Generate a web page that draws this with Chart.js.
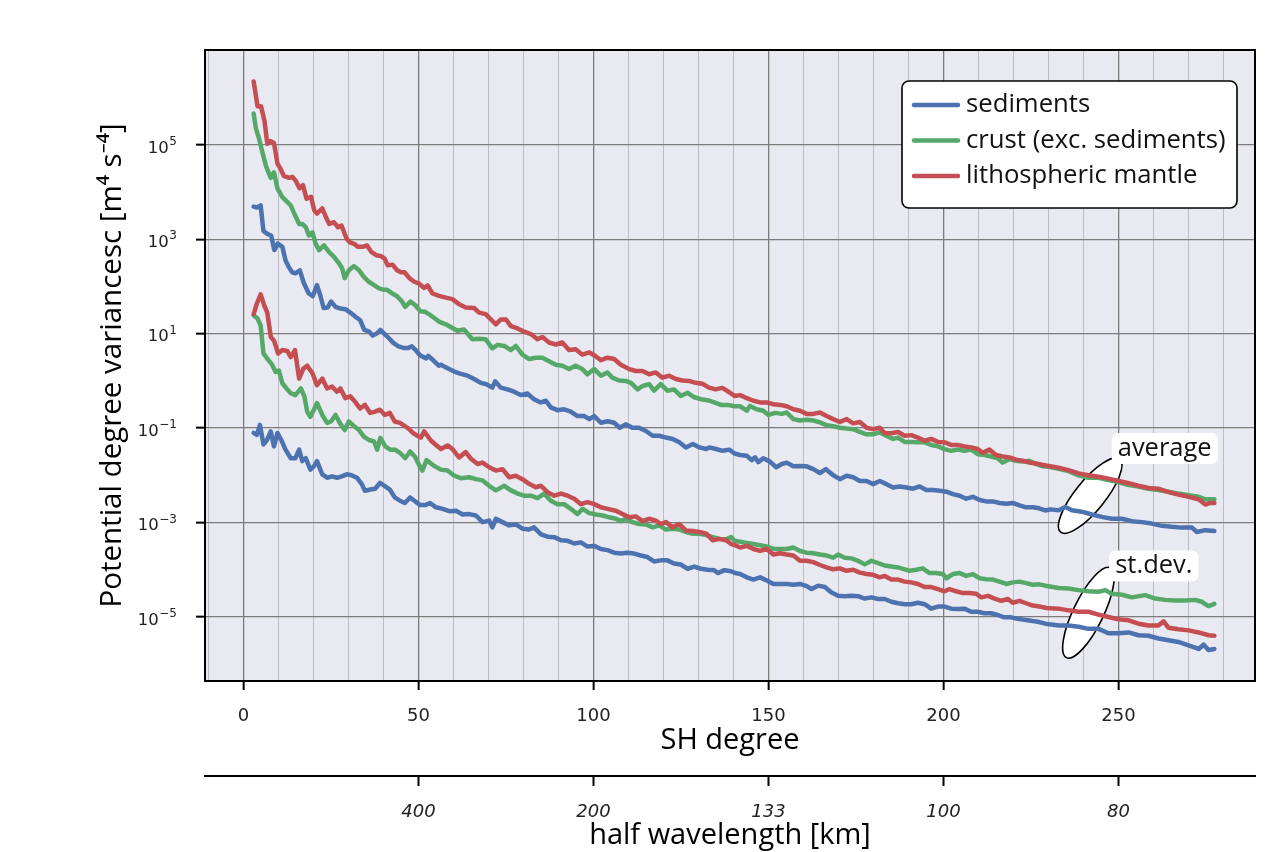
<!DOCTYPE html>
<html>
<head>
<meta charset="utf-8">
<title>Potential degree variances</title>
<script src="https://cdn.jsdelivr.net/npm/chart.js@4.4.1/dist/chart.umd.min.js"></script>
<style>
  html, body { margin: 0; padding: 0; background: #fff; }
  #chart { display: block; }
</style>
</head>
<body>
<canvas id="chart" width="1288" height="852"></canvas>
<script>
'use strict';

// series names, shared by the average and the st.dev. curves
const seriesNames = ['sediments', 'crust (exc. sediments)', 'lithospheric mantle'];

// [SH degree, potential degree variance]
const sedimentsAvg = [
  [2.9, 4.9e3], [3.8, 4.7e3], [4.9, 5.2e3], [5.7, 1.5e3], [6.8, 1.3e3], [7.9, 1.2e3], [8.8, 590], [9.8, 810],
  [11.1, 690], [12, 360], [12.9, 260], [13.9, 200], [14.8, 190], [16.1, 220], [17.2, 120], [18.6, 72],
  [19.8, 62], [21, 107], [21.9, 66], [22.9, 35], [24.1, 36], [25, 48], [26.3, 37], [27.7, 34], [29.1, 33],
  [30.5, 28], [31.9, 23], [33.3, 19.5], [34.5, 12], [35.8, 11.2], [36.9, 9.1], [38.2, 10.2], [39.1, 12],
  [40.1, 10.2], [41.5, 8.1], [42.9, 6.3], [44.3, 5.4], [45.7, 5.0], [47.1, 5.0], [48.1, 5.4], [49.2, 4.5],
  [50.4, 3.5], [52.2, 3.0], [52.8, 3.4], [54.3, 2.7], [55.8, 2.1], [56.4, 2.2], [58.3, 1.86], [60.2, 1.58],
  [62.1, 1.41], [64, 1.29], [65.9, 1.10], [67.8, 0.91], [69.4, 0.85], [71.1, 0.72], [71.9, 0.98], [73.5, 0.72],
  [75.4, 0.66], [77.3, 0.59], [79.2, 0.50], [81.1, 0.54], [83, 0.41], [84.9, 0.35], [86.4, 0.38], [87.8, 0.275],
  [89.7, 0.24], [91.6, 0.25], [93.5, 0.224], [95.4, 0.18], [97.3, 0.18], [98.8, 0.155], [100.2, 0.18],
  [102.1, 0.13], [104, 0.14], [105.9, 0.13], [107.5, 0.102], [109.2, 0.12], [111.1, 0.102], [113, 0.102],
  [115, 0.087], [116.9, 0.069], [118.8, 0.069], [120.7, 0.063], [122.6, 0.059], [124.5, 0.050], [126.4, 0.039],
  [128.4, 0.046], [130.3, 0.039], [132.2, 0.036], [133.1, 0.039], [135, 0.036], [136.9, 0.033], [138.8, 0.035],
  [140.3, 0.029], [141.9, 0.027], [143.8, 0.026], [145.2, 0.021], [146.2, 0.024], [147.1, 0.019], [148.5, 0.023],
  [150.4, 0.0195], [152.2, 0.0148], [153.8, 0.0174], [155.2, 0.0186], [157.1, 0.0155], [159, 0.0158],
  [160.9, 0.0155], [162.8, 0.0135], [164.7, 0.0112], [166.4, 0.0135], [168.5, 0.010], [170.4, 0.0083],
  [172.3, 0.0098], [174.2, 0.0091], [176.1, 0.0076], [178, 0.0076], [179.9, 0.0065], [181.8, 0.0076],
  [183.7, 0.0065], [185.6, 0.0055], [187.5, 0.0058], [189.4, 0.0055], [191.3, 0.0052], [193.2, 0.0058],
  [195.1, 0.0049], [197, 0.0049], [198.9, 0.0047], [200.8, 0.0045], [202.7, 0.0040], [204.6, 0.0037],
  [206.5, 0.0032], [208.4, 0.0035], [210.3, 0.0030], [212.2, 0.0028], [214.1, 0.0028], [216, 0.0026],
  [217.9, 0.0025], [219.8, 0.0026], [221.7, 0.0023], [223.6, 0.0021], [225.5, 0.0021], [227.3, 0.0020],
  [229.1, 0.0018], [230.5, 0.0019], [232.9, 0.00182], [234.8, 0.00214], [236.7, 0.00182], [239.5, 0.0017],
  [242.4, 0.00148], [245.2, 0.00132], [248.1, 0.0012], [251, 0.0012], [253.8, 0.00107], [256.7, 0.00102],
  [259.5, 9.5e-4], [262.4, 8.5e-4], [265.2, 8.1e-4], [268.1, 7.8e-4], [271, 7.8e-4], [272.4, 6.3e-4],
  [274.8, 6.9e-4], [277.4, 6.6e-4]
];

const crustAvg = [
  [2.9, 4.6e5], [3.5, 2.3e5], [4.5, 1.3e5], [5.5, 6.5e4], [6.4, 3.6e4], [7.8, 2.0e4], [8.7, 2.6e4], [9.7, 1.2e4],
  [11.1, 7.8e3], [12.5, 6.2e3], [13.5, 5.2e3], [14.5, 3.5e3], [15.9, 2.1e3], [16.8, 2.1e3], [17.8, 1.8e3],
  [18.7, 1.2e3], [19.7, 1.4e3], [20.6, 810], [21.6, 590], [23, 740], [24.4, 540], [25.8, 430], [27.3, 310],
  [28.2, 240], [28.9, 150], [30.1, 220], [31.6, 270], [33, 220], [34.4, 160], [35.8, 126], [37.3, 107],
  [38.7, 91], [40.1, 85], [41, 85], [42.4, 72], [43.9, 62], [45.3, 48], [46.2, 37], [47.7, 48], [49.1, 40],
  [50.5, 30], [51.9, 29], [53.3, 25], [54.7, 21], [56, 17.8], [57.8, 15.8], [59.2, 13.8], [61.1, 11.5],
  [63, 12.3], [65.4, 7.6], [67.3, 7.8], [69.2, 7.6], [71.1, 4.9], [72.6, 5.8], [74.5, 5.5], [76.4, 4.5],
  [77.8, 5.5], [79.7, 3.6], [81.6, 2.9], [83.5, 3.1], [85.4, 3.1], [87.3, 2.6], [89.2, 2.2], [91.1, 2.1],
  [93, 1.78], [94.9, 2.1], [96.8, 1.78], [98.3, 1.38], [100.2, 1.78], [102.1, 1.29], [104, 1.51], [105.4, 1.17],
  [107.3, 1.02], [109.2, 1.0], [110.7, 0.91], [112.6, 0.66], [114, 0.78], [115.9, 0.85], [117.3, 0.62],
  [119.2, 0.85], [121.1, 0.62], [123, 0.66], [124.9, 0.48], [126.9, 0.56], [128.8, 0.45], [130.7, 0.41],
  [132.6, 0.39], [134.5, 0.35], [136.4, 0.31], [138.3, 0.31], [140.3, 0.29], [141.9, 0.29], [143.8, 0.234],
  [144.7, 0.295], [146.6, 0.25], [148.5, 0.234], [150, 0.19], [151.9, 0.21], [153.8, 0.20], [155.2, 0.214],
  [157.1, 0.155], [159, 0.145], [160.9, 0.151], [162.8, 0.145], [164.7, 0.132], [166.6, 0.115], [168.5, 0.11],
  [170.4, 0.102], [172.3, 0.098], [174.2, 0.095], [176.1, 0.083], [178, 0.074], [179.9, 0.074], [181.8, 0.081],
  [183.7, 0.069], [185.6, 0.059], [187, 0.063], [188.9, 0.051], [190.8, 0.051], [192.7, 0.050], [194.6, 0.050],
  [196.5, 0.044], [198.4, 0.041], [200.3, 0.036], [202.2, 0.033], [204.1, 0.035], [206, 0.033], [207.9, 0.035],
  [209.8, 0.028], [211.7, 0.027], [213.6, 0.025], [215.5, 0.023], [216.9, 0.0186], [218.8, 0.022],
  [220.7, 0.0204], [222.6, 0.0195], [224.5, 0.0204], [226.4, 0.0174], [228, 0.0158], [230, 0.0151],
  [232.9, 0.0138], [235.7, 0.0123], [238.6, 0.010], [241.4, 0.0089], [244.3, 0.0089], [247.1, 0.0079],
  [250, 0.0072], [252.9, 0.0062], [255.7, 0.0058], [258.6, 0.0052], [261.4, 0.0049], [264.3, 0.0045],
  [267.1, 0.0041], [270, 0.0038], [272.9, 0.0035], [274.8, 0.0031], [277.4, 0.0031]
];

const mantleAvg = [
  [2.9, 2.2e6], [4, 6.6e5], [5, 6.6e5], [6, 3.2e5], [6.8, 1.05e5], [7.8, 1.2e5], [8.7, 1.1e5], [9.7, 4.0e4],
  [10.6, 3.1e4], [11.5, 2.2e4], [13, 2.0e4], [14, 2.1e4], [15, 1.7e4], [16, 1.2e4], [17, 1.4e4], [18, 7.2e3],
  [19.3, 7.9e3], [20.2, 4.1e3], [21, 3.5e3], [22.5, 4.5e3], [23.5, 3.0e3], [24.5, 2.1e3], [25.8, 2.3e3],
  [27, 1.8e3], [28, 1.95e3], [29.4, 1.05e3], [30.3, 870], [31.7, 790], [32.7, 690], [34, 690], [35.3, 740],
  [36.5, 540], [37.9, 460], [39.3, 440], [40.3, 390], [41.2, 280], [42.6, 290], [43.9, 220], [45, 200],
  [46, 200], [47.4, 150], [48.8, 126], [50.2, 115], [51.6, 93], [52.6, 105], [54, 71], [55.9, 63], [57.8, 58],
  [59.7, 54], [61.6, 42], [63.5, 36], [65.9, 35], [67.3, 28], [69.2, 26], [70.7, 20], [72.1, 15.8], [73.5, 20],
  [75, 20], [76.4, 14.5], [78.3, 12.9], [80.2, 11], [82.1, 9.8], [84, 7.6], [85.4, 8.5], [87.3, 6.5],
  [89.2, 5.9], [91.1, 6.5], [93, 4.5], [94.9, 4.7], [96.8, 3.6], [98.8, 4.0], [100.4, 3.4], [102.1, 2.75],
  [104, 3.1], [105.9, 2.9], [107.8, 2.2], [110.2, 1.78], [112.1, 1.62], [114, 1.62], [115.9, 1.38],
  [117.8, 1.51], [119.7, 1.17], [121.6, 1.29], [123.5, 1.10], [125.4, 1.02], [127.3, 1.0], [129.2, 0.91],
  [131.1, 0.87], [133, 0.72], [134.9, 0.66], [136.8, 0.71], [138.8, 0.575], [140.3, 0.48], [141.9, 0.50],
  [143.8, 0.43], [145.7, 0.38], [147.6, 0.35], [149.5, 0.35], [151.4, 0.32], [153.3, 0.31], [155.2, 0.29],
  [157.1, 0.25], [159, 0.234], [160.9, 0.20], [162.8, 0.20], [164.7, 0.214], [166.6, 0.18], [168.5, 0.155],
  [170.4, 0.135], [172.3, 0.155], [174.2, 0.126], [176.1, 0.135], [178, 0.102], [179.9, 0.095], [181.8, 0.102],
  [183.2, 0.078], [185.1, 0.078], [187, 0.083], [188.9, 0.069], [190.8, 0.071], [192.7, 0.063], [194.6, 0.054],
  [196.5, 0.059], [198.4, 0.051], [200.3, 0.050], [202.2, 0.044], [204.1, 0.044], [206, 0.041], [207.9, 0.039],
  [209.8, 0.036], [211.2, 0.030], [213.1, 0.035], [215, 0.027], [216.9, 0.025], [218.8, 0.024], [220.7, 0.0214],
  [222.6, 0.0204], [224.5, 0.0186], [226.4, 0.0178], [228.5, 0.0166], [230, 0.0158], [232.9, 0.0145],
  [235.7, 0.0129], [238.6, 0.011], [241.4, 0.010], [244.3, 0.0093], [247.1, 0.0085], [250, 0.0076],
  [252.9, 0.0068], [255.7, 0.006], [258.6, 0.0054], [261.4, 0.0052], [264.3, 0.0044], [267.1, 0.0039],
  [270, 0.0035], [272.9, 0.0031], [274.8, 0.0024], [276.2, 0.0026], [277.4, 0.0026]
];

const sedimentsStd = [
  [2.9, 0.079], [3.8, 0.072], [4.7, 0.117], [5.7, 0.045], [6.7, 0.056], [7.8, 0.085], [8.7, 0.041], [9.7, 0.079],
  [10.8, 0.056], [12, 0.035], [13.5, 0.023], [14.8, 0.023], [15.9, 0.035], [16.8, 0.020], [17.8, 0.023],
  [19.1, 0.0132], [20.1, 0.0155], [21, 0.020], [22.5, 0.0105], [23.9, 0.0089], [25.3, 0.0095], [26.7, 0.0089],
  [28.1, 0.0095], [29.5, 0.0105], [30.9, 0.010], [32.4, 0.0089], [33.8, 0.0065], [34.7, 0.0047], [36.2, 0.005],
  [37.6, 0.0052], [39, 0.0069], [40.4, 0.0059], [41.8, 0.005], [43.2, 0.0034], [44.7, 0.0029], [46.1, 0.0026],
  [47.6, 0.0034], [49.1, 0.0028], [50.4, 0.00234], [51.9, 0.00234], [53.3, 0.0026], [55, 0.0021],
  [56.9, 0.00195], [58.8, 0.00174], [60.7, 0.00178], [62.6, 0.00148], [64.5, 0.00151], [66.4, 0.00141],
  [68.3, 0.00102], [70.2, 0.0011], [71.1, 7.9e-4], [72.1, 0.0012], [74, 0.00102], [75.9, 8.7e-4], [77.8, 9.1e-4],
  [79.7, 7.4e-4], [81.6, 7.1e-4], [83, 7.9e-4], [85, 5.6e-4], [86.9, 5.0e-4], [88.8, 4.9e-4], [90.7, 4.2e-4],
  [92.6, 4.1e-4], [94.5, 3.6e-4], [96.4, 3.8e-4], [98.3, 3.1e-4], [100.2, 3.2e-4], [102.1, 2.75e-4],
  [104, 2.6e-4], [105.9, 2.3e-4], [107.8, 2.2e-4], [109.7, 2.3e-4], [111.6, 2.2e-4], [113.5, 2.0e-4],
  [115.4, 1.86e-4], [117.3, 1.5e-4], [119.2, 1.58e-4], [121.1, 1.58e-4], [123, 1.35e-4], [124.9, 1.29e-4],
  [126.9, 1.05e-4], [128.8, 1.17e-4], [130.7, 1.05e-4], [132.6, 1.0e-4], [134.5, 9.8e-5], [135.5, 8.5e-5],
  [137.4, 9.8e-5], [139.3, 9.3e-5], [140.5, 8.5e-5], [141.9, 8.1e-5], [143.8, 6.9e-5], [145.7, 6.2e-5],
  [147.6, 6.9e-5], [149.5, 5.9e-5], [151.4, 5.0e-5], [153.3, 5.0e-5], [155.2, 5.0e-5], [157.1, 4.8e-5],
  [159, 5.0e-5], [160.9, 4.5e-5], [162.3, 3.9e-5], [164.2, 4.6e-5], [166.1, 4.3e-5], [168, 3.3e-5],
  [169.9, 2.8e-5], [171.8, 2.75e-5], [173.7, 2.8e-5], [175.6, 2.75e-5], [177.5, 2.45e-5], [179.4, 2.6e-5],
  [181.3, 2.4e-5], [183.2, 2.4e-5], [185.1, 2.1e-5], [187, 1.95e-5], [188.9, 1.86e-5], [190.8, 1.86e-5],
  [192.7, 2.0e-5], [194.6, 1.86e-5], [196.5, 1.5e-5], [198.4, 1.66e-5], [200.3, 1.66e-5], [202.2, 1.5e-5],
  [204.1, 1.48e-5], [206, 1.5e-5], [207.9, 1.29e-5], [209.8, 1.29e-5], [211.7, 1.2e-5], [213.6, 1.2e-5],
  [215.5, 1.1e-5], [217.4, 9.8e-6], [219.3, 9.8e-6], [221.2, 9.1e-6], [223.1, 8.7e-6], [225, 8.3e-6],
  [226.9, 7.9e-6], [229.1, 7.2e-6], [232.9, 6.6e-6], [235.7, 6.6e-6], [238.6, 6.2e-6], [241.4, 5.6e-6],
  [244.3, 5.6e-6], [247.1, 4.5e-6], [250, 4.5e-6], [252.9, 4.7e-6], [255.7, 4.1e-6], [258.6, 4.0e-6],
  [261.4, 3.5e-6], [264.3, 3.2e-6], [267.1, 2.95e-6], [270, 2.5e-6], [272.9, 2.1e-6], [274.3, 2.6e-6],
  [275.7, 2.0e-6], [277.4, 2.1e-6]
];

const crustStd = [
  [2.9, 24.5], [4, 21], [4.9, 15], [5.7, 3.8], [6.8, 2.95], [8, 2.3], [9.2, 1.55], [10.1, 1.66], [11.1, 0.89],
  [12.3, 0.69], [13.5, 0.55], [14.8, 0.50], [16.4, 0.69], [17.4, 0.47], [18.2, 0.224], [19.1, 0.174],
  [20.1, 0.245], [21, 0.34], [22.5, 0.19], [23.9, 0.129], [25, 0.138], [26.3, 0.19], [27.5, 0.129],
  [28.9, 0.091], [30.1, 0.138], [31.6, 0.11], [33, 0.091], [34.4, 0.066], [35.8, 0.056], [37.3, 0.052],
  [38.2, 0.035], [39.1, 0.062], [40.5, 0.041], [41.9, 0.035], [43.3, 0.035], [44.7, 0.030], [46.2, 0.023],
  [47.6, 0.032], [49.1, 0.024], [50.3, 0.0158], [51.1, 0.0126], [52.3, 0.021], [54.5, 0.0158], [56.4, 0.0132],
  [58.3, 0.0126], [60.2, 0.0098], [62.1, 0.0087], [64.5, 0.0091], [66.4, 0.0083], [68.3, 0.0078], [70.2, 0.006],
  [72.1, 0.0048], [74.5, 0.006], [76.4, 0.0048], [78.3, 0.0041], [80.2, 0.0037], [82.1, 0.0037], [84, 0.0033],
  [85.9, 0.0041], [87.8, 0.0029], [89.7, 0.00245], [91.6, 0.00245], [93.5, 0.00195], [95.4, 0.00151],
  [96.9, 0.00195], [98.8, 0.00158], [100.7, 0.00148], [102.6, 0.00141], [104.5, 0.00129], [106.4, 0.0012],
  [107.8, 0.00107], [109.2, 0.0012], [111.1, 0.00102], [113, 9.3e-4], [115, 9.1e-4], [116.9, 7.9e-4],
  [118.8, 8.7e-4], [120.7, 7.1e-4], [122.6, 7.4e-4], [124.5, 7.1e-4], [126.4, 6.3e-4], [128.4, 5.8e-4],
  [130.3, 5.8e-4], [132.2, 5.4e-4], [134.1, 4.9e-4], [136, 4.5e-4], [137.9, 4.4e-4], [139.3, 4.9e-4],
  [140.3, 4.1e-4], [141.9, 3.9e-4], [143.8, 3.7e-4], [145.7, 3.5e-4], [147.6, 3.3e-4], [149.5, 3.1e-4],
  [151.4, 2.8e-4], [153.3, 2.75e-4], [155.2, 2.75e-4], [157.1, 2.95e-4], [159, 2.5e-4], [160.9, 2.3e-4],
  [162.8, 2.24e-4], [164.7, 2.1e-4], [166.6, 2.0e-4], [168.5, 1.8e-4], [169.9, 2.1e-4], [171.8, 1.8e-4],
  [173.7, 1.74e-4], [175.6, 1.55e-4], [177.5, 1.3e-4], [179.4, 1.55e-4], [181.3, 1.38e-4], [183.2, 1.23e-4],
  [185.1, 1.17e-4], [187, 1.12e-4], [188.9, 1.02e-4], [190.3, 9.5e-5], [192.2, 1.0e-4], [194.1, 1.07e-4],
  [196, 8.5e-5], [197.9, 8.5e-5], [199.8, 8.1e-5], [200.8, 6.6e-5], [202.7, 8.1e-5], [204.6, 8.5e-5],
  [206.5, 7.4e-5], [208.4, 8.1e-5], [210.3, 6.6e-5], [212.2, 6.3e-5], [214.1, 6.2e-5], [216, 5.6e-5],
  [217.9, 5.0e-5], [219.8, 5.4e-5], [221.7, 5.6e-5], [223.6, 5.2e-5], [225.5, 4.8e-5], [227.4, 4.9e-5],
  [229.1, 4.6e-5], [232.9, 4.1e-5], [235.7, 4.0e-5], [238.6, 3.7e-5], [241.4, 3.5e-5], [244.3, 3.4e-5],
  [246.2, 3.7e-5], [248.1, 3.1e-5], [251, 2.95e-5], [253.8, 2.6e-5], [257.6, 2.9e-5], [260.5, 2.45e-5],
  [263.3, 2.3e-5], [266.2, 2.24e-5], [269, 2.24e-5], [271.9, 2.3e-5], [273.8, 2.1e-5], [275.7, 1.7e-5],
  [277.4, 1.9e-5]
];

const mantleStd = [
  [2.9, 26], [3.8, 43], [4.9, 68], [5.9, 40], [6.8, 28], [7.8, 8.5], [8.7, 7.2], [9.9, 3.8], [11.1, 4.5],
  [12.5, 4.3], [13.5, 3.2], [14.7, 4.5], [15.9, 1.12], [17.1, 1.82], [18.2, 2.1], [19.7, 1.45], [21, 0.81],
  [22.5, 1.12], [23.9, 0.69], [25.3, 0.76], [26.7, 0.59], [27.7, 0.69], [29.1, 0.43], [30.5, 0.47],
  [31.9, 0.36], [33.3, 0.26], [34.7, 0.31], [36.2, 0.21], [37.6, 0.224], [39, 0.245], [40.4, 0.19],
  [41.8, 0.21], [43.2, 0.138], [44.7, 0.129], [46.1, 0.11], [47, 0.10], [48.4, 0.079], [49.6, 0.069],
  [50.7, 0.063], [51.6, 0.085], [52.4, 0.071], [53.6, 0.054], [55, 0.044], [56.4, 0.036], [58.3, 0.043],
  [59.7, 0.036], [61.6, 0.024], [63.5, 0.031], [65, 0.0224], [66.9, 0.0174], [68.3, 0.0186], [70.2, 0.0148],
  [72.1, 0.0126], [74, 0.0135], [75.9, 0.0091], [77.8, 0.0098], [79.7, 0.0083], [81.6, 0.0066], [83.5, 0.0056],
  [85, 0.006], [86.9, 0.0044], [88.8, 0.0037], [90.7, 0.0041], [92.6, 0.0037], [94.5, 0.0032], [96.4, 0.00245],
  [98.3, 0.0027], [100.2, 0.00245], [102.1, 0.0021], [104, 0.00195], [106.4, 0.00178], [108.3, 0.00151],
  [110.2, 0.00129], [112.1, 0.00135], [114, 0.00107], [115.9, 0.0012], [117.8, 0.0011], [119.2, 9.3e-4],
  [120.7, 0.00102], [122.6, 7.9e-4], [124.5, 9.3e-4], [126.4, 6.8e-4], [128.4, 6.6e-4], [130.3, 6.3e-4],
  [132.2, 5.8e-4], [134.1, 4.2e-4], [136, 4.5e-4], [137.9, 4.2e-4], [139.3, 3.5e-4], [140.5, 3.3e-4],
  [141.9, 2.95e-4], [143.8, 3.2e-4], [145.7, 2.75e-4], [147.6, 2.5e-4], [149.5, 2.75e-4], [151.4, 2.1e-4],
  [153.3, 2.24e-4], [155.2, 2.1e-4], [157.1, 2.0e-4], [159, 1.55e-4], [160.9, 1.55e-4], [162.8, 1.45e-4],
  [164.7, 1.26e-4], [166.6, 1.12e-4], [168.5, 1.02e-4], [170.4, 1.07e-4], [172.3, 9.5e-5], [174.2, 1.0e-4],
  [176.1, 8.7e-5], [178, 8.1e-5], [179.9, 7.8e-5], [181.8, 6.9e-5], [183.2, 7.4e-5], [185.1, 6.2e-5],
  [187, 6.2e-5], [188.9, 5.6e-5], [190.8, 5.4e-5], [192.7, 5.0e-5], [194.6, 4.3e-5], [196.5, 4.3e-5],
  [198.4, 3.9e-5], [200.3, 3.5e-5], [201.7, 3.9e-5], [203.6, 3.5e-5], [205.5, 3.2e-5], [207.4, 3.2e-5],
  [209.3, 3.1e-5], [210.8, 2.6e-5], [212.7, 2.8e-5], [214.6, 2.45e-5], [216.5, 2.2e-5], [218.4, 2.4e-5],
  [219.8, 2.0e-5], [221.7, 2.2e-5], [223.6, 1.95e-5], [225.5, 1.74e-5], [227.4, 1.66e-5], [229.5, 1.55e-5],
  [232.9, 1.5e-5], [235.7, 1.38e-5], [238.6, 1.29e-5], [241.4, 1.29e-5], [244.3, 1.12e-5], [247.1, 1.0e-5],
  [250, 8.9e-6], [252.9, 8.5e-6], [255.7, 7.2e-6], [258.6, 6.6e-6], [261.4, 6.6e-6], [262.9, 8.1e-6],
  [264.3, 5.9e-6], [267.1, 5.5e-6], [270, 5.2e-6], [272.9, 4.7e-6], [275.7, 4.1e-6], [277.4, 4.0e-6]
];

// axis ticks
const gridDegrees = [-10, 0, 10, 20, 30, 40, 50, 60, 70, 80, 90, 100, 110, 120, 130, 140, 150,
  160, 170, 180, 190, 200, 210, 220, 230, 240, 250, 260, 270, 280];
const degreeTicks = [0, 50, 100, 150, 200, 250];
const wavelengthDegrees = [50, 100, 150, 200, 250];
const wavelengthLabels = ['400', '200', '133', '100', '80'];
const varianceTicks = [1e-5, 1e-3, 1e-1, 1e1, 1e3, 1e5];
const varianceLabels = [['10', '\u22125'], ['10', '\u22123'], ['10', '\u22121'], ['10', '1'], ['10', '3'], ['10', '5']];

const colors = ['#4c72b0', '#55a868', '#c44e52'];
const labelFont = '"Open Sans", "Noto Sans", sans-serif';
const tickFont = '"DejaVu Sans", sans-serif';

function toPoints(pairs) {
  return pairs.map(([x, y]) => ({ x, y }));
}

const averages = [sedimentsAvg, crustAvg, mantleAvg];
const deviations = [sedimentsStd, crustStd, mantleStd];

const datasets = [];
averages.concat(deviations).forEach((series, i) => {
  const k = i % 3;
  datasets.push({
    label: seriesNames[k],
    data: toPoints(series),
    borderColor: colors[k],
    backgroundColor: colors[k],
    borderWidth: 4.5,
    pointRadius: 0,
    tension: 0,
    borderJoinStyle: 'round',
    borderCapStyle: 'round',
    order: 3 - k
  });
});

function roundedBox(ctx, x, y, w, h, r) {
  ctx.beginPath();
  ctx.moveTo(x + r, y);
  ctx.lineTo(x + w - r, y);
  ctx.arcTo(x + w, y, x + w, y + r, r);
  ctx.lineTo(x + w, y + h - r);
  ctx.arcTo(x + w, y + h, x + w - r, y + h, r);
  ctx.lineTo(x + r, y + h);
  ctx.arcTo(x, y + h, x, y + h - r, r);
  ctx.lineTo(x, y + r);
  ctx.arcTo(x, y, x + r, y, r);
  ctx.closePath();
}

// plot background, black frame and the 10^n labels of the y axis
const framePlugin = {
  id: 'frame',
  beforeDraw(chart) {
    const { ctx, chartArea: a } = chart;
    ctx.save();
    ctx.fillStyle = '#e9e9f1';
    ctx.fillRect(a.left, a.top, a.right - a.left, a.bottom - a.top);
    ctx.restore();
  },
  afterDraw(chart) {
    const { ctx, chartArea: a, scales: { y } } = chart;
    ctx.save();
    ctx.strokeStyle = '#000';
    ctx.lineWidth = 2;
    ctx.strokeRect(a.left, a.top, a.right - a.left, a.bottom - a.top);

    const right = y.right - 28;
    ctx.fillStyle = '#222';
    ctx.textAlign = 'right';
    ctx.textBaseline = 'alphabetic';
    y.ticks.forEach((t, i) => {
      const py = y.getPixelForValue(t.value);
      const [base, exp] = varianceLabels[i];
      ctx.font = '12px ' + tickFont;
      const ew = ctx.measureText(exp).width;
      ctx.fillText(exp, right, py);
      ctx.font = '16.5px ' + tickFont;
      ctx.fillText(base, right - ew - 0.5, py + 7.8);
    });
    ctx.restore();
  }
};

// ellipses and their labels, placed in data units
const notes = [
  { text: 'average', label: [263.2, 0.037], ring: [241.9, 0.0037], a: 47, b: 15, angle: 51 },
  { text: 'st.dev.', label: [260.1, 1.2e-4], ring: [241.4, 1.23e-5], a: 50, b: 15, angle: 64 }
];

const notesPlugin = {
  id: 'notes',
  beforeDatasetsDraw(chart) {
    const { ctx, scales: { x, y } } = chart;
    ctx.save();
    notes.forEach(n => {
      const cx = x.getPixelForValue(n.ring[0]);
      const cy = y.getPixelForValue(n.ring[1]);
      ctx.beginPath();
      ctx.ellipse(cx, cy, n.a, n.b, -n.angle * Math.PI / 180, 0, Math.PI * 2);
      ctx.fillStyle = '#fff';
      ctx.fill();
      ctx.lineWidth = 1.6;
      ctx.strokeStyle = '#000';
      ctx.stroke();

      const lx = x.getPixelForValue(n.label[0]);
      const ly = y.getPixelForValue(n.label[1]);
      ctx.font = '25.5px ' + labelFont;
      const w = ctx.measureText(n.text).width + 12;
      roundedBox(ctx, lx - w / 2, ly - 15.5, w, 31, 6);
      ctx.fillStyle = '#fff';
      ctx.fill();
      ctx.fillStyle = '#111';
      ctx.textAlign = 'center';
      ctx.textBaseline = 'middle';
      ctx.fillText(n.text, lx, ly);
    });
    ctx.restore();
  }
};

// legend box in the upper right of the plot
const legendPlugin = {
  id: 'legendBox',
  afterDraw(chart) {
    const { ctx, chartArea: a } = chart;
    const right = a.right - 18;
    const top = a.top + 31;
    const w = 335, h = 127;
    ctx.save();
    roundedBox(ctx, right - w, top, w, h, 7);
    ctx.fillStyle = '#fff';
    ctx.fill();
    ctx.lineWidth = 1.6;
    ctx.strokeStyle = '#000';
    ctx.stroke();
    ctx.font = '25.7px ' + labelFont;
    ctx.textBaseline = 'middle';
    ctx.textAlign = 'left';
    chart.data.datasets.slice(0, 3).forEach((ds, i) => {
      const ly = top + 24 + i * 35.5;
      ctx.beginPath();
      ctx.moveTo(right - w + 12, ly);
      ctx.lineTo(right - w + 56, ly);
      ctx.lineWidth = 4.5;
      ctx.lineCap = 'round';
      ctx.strokeStyle = ds.borderColor;
      ctx.stroke();
      ctx.fillStyle = '#111';
      ctx.fillText(ds.label, right - w + 64, ly);
    });
    ctx.restore();
  }
};

const canvasElem = document.getElementById('chart');
new Chart(canvasElem.getContext('2d'), {
  type: 'line',
  data: { datasets },
  options: {
    responsive: false,
    animation: false,
    layout: { padding: { top: 50, right: 33, left: 0, bottom: 0 } },
    plugins: { legend: { display: false }, tooltip: { enabled: false } },
    scales: {
      x: {
        type: 'linear',
        position: 'bottom',
        weight: 0,
        min: -11,
        max: 289,
        afterBuildTicks: s => { s.ticks = gridDegrees.map(v => ({ value: v })); },
        afterFit: s => { s.height = 95; },
        border: { display: false },
        grid: {
          color: c => degreeTicks.includes(c.tick && c.tick.value) ? '#7c7c7c' : '#bdbdc6',
          lineWidth: c => degreeTicks.includes(c.tick && c.tick.value) ? 1.3 : 1,
          tickColor: c => degreeTicks.includes(c.tick && c.tick.value) ? '#000' : 'rgba(0,0,0,0)',
          tickLength: 9,
          tickWidth: 2
        },
        ticks: {
          autoSkip: false,
          maxRotation: 0,
          minRotation: 0,
          padding: 16,
          color: '#222',
          font: { family: tickFont, size: 18 },
          callback: v => degreeTicks.includes(v) ? String(v) : ''
        },
        title: {
          display: true,
          text: 'SH degree',
          color: '#000',
          font: { family: labelFont, size: 29 },
          padding: { top: -16, bottom: 17.5 }
        }
      },
      x2: {
        type: 'linear',
        position: 'bottom',
        weight: 1,
        min: -11,
        max: 289,
        afterBuildTicks: s => { s.ticks = wavelengthDegrees.map(v => ({ value: v })); },
        afterFit: s => { s.height = 76; },
        border: { display: true, color: '#000', width: 2 },
        grid: { drawOnChartArea: false, tickLength: 10, tickWidth: 2, tickColor: '#000' },
        ticks: {
          autoSkip: false,
          maxRotation: 0,
          minRotation: 0,
          padding: 16,
          color: '#222',
          font: { family: tickFont, size: 18, style: 'italic' },
          callback: (v, i) => wavelengthLabels[i]
        },
        title: {
          display: true,
          text: 'half wavelength [km]',
          color: '#000',
          font: { family: labelFont, size: 29 },
          padding: { top: -20, bottom: -1.5 }
        }
      },
      y: {
        type: 'logarithmic',
        position: 'left',
        min: 4.4e-7,
        max: 1.02e7,
        afterBuildTicks: s => { s.ticks = varianceTicks.map(v => ({ value: v })); },
        afterFit: s => { s.width = 205; },
        border: { display: false },
        grid: { color: '#7c7c7c', lineWidth: 1.3, tickColor: '#000', tickLength: 9, tickWidth: 2 },
        ticks: { display: false },
        title: {
          display: true,
          text: 'Potential degree variancesc [m\u2074 s\u207B\u2074]',
          color: '#000',
          font: { family: labelFont, size: 29.5 },
          padding: { top: 95, bottom: 0 }
        }
      }
    }
  },
  plugins: [framePlugin, notesPlugin, legendPlugin]
});
</script>
</body>
</html>
